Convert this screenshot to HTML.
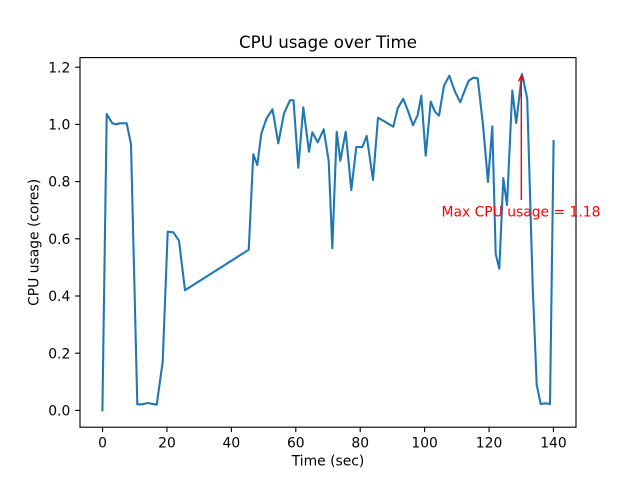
<!DOCTYPE html>
<html>
<head>
<meta charset="utf-8">
<style>
  html, body { margin: 0; padding: 0; background: #ffffff; }
  svg { display: block; }
  text { font-family: "DejaVu Sans", "Liberation Sans", sans-serif; fill: #000; }
</style>
</head>
<body>
<svg width="640" height="480" viewBox="0 0 640 480" xmlns="http://www.w3.org/2000/svg">
  <rect x="0" y="0" width="640" height="480" fill="#ffffff"/>

  <!-- data line -->
  <polyline fill="none" stroke="#1f77b4" stroke-width="2.08" stroke-linejoin="round" stroke-linecap="square"
    points="102.4,410.4 106.7,114 112.3,123.3 115.7,124.3 120,123.3 126.7,123.3 131,144.3 137.3,404.3 142.7,404.3 147.7,403 156.7,404.7 162.7,361.7 167.7,231.7 173.3,232.3 179,240.7 185,290.3 248.7,249.7 253.3,154.3 257.3,165 261.3,133.7 266.5,118.5 272.5,109.3 278.3,143.3 284,113.3 290,100.3 293.5,100.3 298.3,167.7 303.3,107.3 309,151.7 312.3,132.3 317.7,142.3 323.7,129.3 328.7,161 332.3,248.3 336.7,131.7 340.3,160.7 345.7,131.7 351.3,190 356.3,147 362.3,147 366.7,136 373,180 378,117.7 393.3,126.7 397.7,108.3 403.2,98.8 408,111 413,125.3 417.7,115 421.3,95.7 425.7,155.7 430.7,101.7 435,111.7 439,115.7 444,85.7 449.3,75.7 455,91.7 460.3,102.3 464,92.3 468.7,80.7 473.3,77.7 477.7,78.3 483,125 488,182 492.3,126.3 495.7,254 499.3,268.7 503.3,178 507,205 512.3,90.5 516.2,123 522,74 527.2,98.3 532.7,286 536.7,385 540.7,404 545.7,403.3 550,404 553.6,141"/>

  <!-- axes frame -->
  <rect x="80" y="57.6" width="496" height="369.6" fill="none" stroke="#000" stroke-width="1.11"/>

  <!-- x ticks -->
  <g stroke="#000" stroke-width="1.11">
    <line x1="102.55" y1="427.2" x2="102.55" y2="432.1"/>
    <line x1="166.97" y1="427.2" x2="166.97" y2="432.1"/>
    <line x1="231.38" y1="427.2" x2="231.38" y2="432.1"/>
    <line x1="295.8" y1="427.2" x2="295.8" y2="432.1"/>
    <line x1="360.21" y1="427.2" x2="360.21" y2="432.1"/>
    <line x1="424.63" y1="427.2" x2="424.63" y2="432.1"/>
    <line x1="489.05" y1="427.2" x2="489.05" y2="432.1"/>
    <line x1="553.46" y1="427.2" x2="553.46" y2="432.1"/>
  </g>
  <g font-size="13.89" text-anchor="middle">
    <text x="102.55" y="447.5">0</text>
    <text x="166.97" y="447.5">20</text>
    <text x="231.38" y="447.5">40</text>
    <text x="295.8" y="447.5">60</text>
    <text x="360.21" y="447.5">80</text>
    <text x="424.63" y="447.5">100</text>
    <text x="489.05" y="447.5">120</text>
    <text x="553.46" y="447.5">140</text>
  </g>

  <!-- y ticks -->
  <g stroke="#000" stroke-width="1.11">
    <line x1="75.1" y1="410.4" x2="80" y2="410.4"/>
    <line x1="75.1" y1="353.2" x2="80" y2="353.2"/>
    <line x1="75.1" y1="296.0" x2="80" y2="296.0"/>
    <line x1="75.1" y1="238.8" x2="80" y2="238.8"/>
    <line x1="75.1" y1="181.6" x2="80" y2="181.6"/>
    <line x1="75.1" y1="124.4" x2="80" y2="124.4"/>
    <line x1="75.1" y1="67.2" x2="80" y2="67.2"/>
  </g>
  <g font-size="13.89" text-anchor="end">
    <text x="70.3" y="415.5">0.0</text>
    <text x="70.3" y="358.3">0.2</text>
    <text x="70.3" y="301.1">0.4</text>
    <text x="70.3" y="243.9">0.6</text>
    <text x="70.3" y="186.7">0.8</text>
    <text x="70.3" y="129.5">1.0</text>
    <text x="70.3" y="72.3">1.2</text>
  </g>

  <!-- axis labels -->
  <text x="328" y="465.5" font-size="13.89" text-anchor="middle">Time (sec)</text>
  <text transform="translate(38.5,242.4) rotate(-90)" x="0" y="0" font-size="13.89" text-anchor="middle">CPU usage (cores)</text>

  <!-- title -->
  <text x="328" y="48" font-size="16.67" text-anchor="middle">CPU usage over Time</text>

  <!-- annotation -->
  <line x1="521.3" y1="200" x2="521.3" y2="75.8" stroke="#ff0000" stroke-width="1.39"/>
  <polyline points="518.5,81.4 521.3,75.6 524.1,81.4" fill="none" stroke="#ff0000" stroke-width="1.39"/>
  <text x="441.5" y="216.5" font-size="13.89" style="fill:#ff0000">Max CPU usage = 1.18</text>
</svg>
</body>
</html>
